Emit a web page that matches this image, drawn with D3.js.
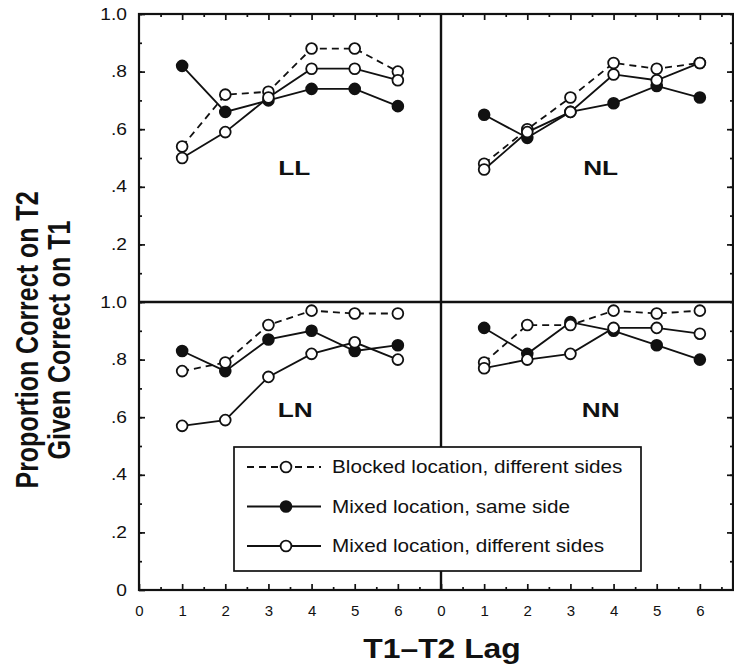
<!DOCTYPE html>
<html>
<head>
<meta charset="utf-8">
<script src="https://cdn.jsdelivr.net/npm/d3@7"></script>
<style>
  body { margin: 0; background: #fff; }
  text { font-family: "Liberation Sans", Arial, Helvetica, sans-serif; fill: #111; }
</style>
</head>
<body>
<div class="chart"></div>
<script>
// Lags on the x axis
const lags = [1, 2, 3, 4, 5, 6];

// Series names (legend order)
const seriesNames = [
    "Blocked location, different sides",
    "Mixed location, same side",
    "Mixed location, different sides"
];

// Proportion correct
const LL_blocked   = [0.54, 0.72, 0.73, 0.88, 0.88, 0.80];
const LL_mixedSame = [0.82, 0.66, 0.70, 0.74, 0.74, 0.68];
const LL_mixedDiff = [0.50, 0.59, 0.71, 0.81, 0.81, 0.77];

const NL_blocked   = [0.48, 0.60, 0.71, 0.83, 0.81, 0.83];
const NL_mixedSame = [0.65, 0.57, 0.66, 0.69, 0.75, 0.71];
const NL_mixedDiff = [0.46, 0.59, 0.66, 0.79, 0.77, 0.83];

const LN_blocked   = [0.76, 0.79, 0.92, 0.97, 0.96, 0.96];
const LN_mixedSame = [0.83, 0.76, 0.87, 0.90, 0.83, 0.85];
const LN_mixedDiff = [0.57, 0.59, 0.74, 0.82, 0.86, 0.80];

const NN_blocked   = [0.79, 0.92, 0.92, 0.97, 0.96, 0.97];
const NN_mixedSame = [0.91, 0.82, 0.93, 0.90, 0.85, 0.80];
const NN_mixedDiff = [0.77, 0.80, 0.82, 0.91, 0.91, 0.89];

// Tick values
const xTicks = [0, 1, 2, 3, 4, 5, 6];
const yTicks = [0, 0.2, 0.4, 0.6, 0.8, 1.0];

const width = 734;
const height = 665;

// Frame geometry
const frameLeft = 139, frameMid = 441, frameRight = 733;
const frameTop = 14, frameMidY = 302, frameBottom = 590;
const unit = (frameMid - frameLeft) / 7;
const stretch = 1.2;   // the scanned figure is a bit wide

const svg = d3.select(".chart").append("svg")
    .attr("width", width)
    .attr("height", height);

// Scales
const xLeft = d3.scaleLinear().domain([0, 7]).range([frameLeft, frameMid]);
const xRight = d3.scaleLinear().domain([0, (frameRight - frameMid) / unit]).range([frameMid, frameRight]);
const yTop = d3.scaleLinear().domain([0, 1]).range([frameMidY, frameTop]);
const yBottom = d3.scaleLinear().domain([0, 1]).range([frameBottom, frameMidY]);

const panels = [
    { name: "LL", x: xLeft,  y: yTop,    series: [LL_blocked, LL_mixedSame, LL_mixedDiff], lx: 3.6, ly: 0.44 },
    { name: "NL", x: xRight, y: yTop,    series: [NL_blocked, NL_mixedSame, NL_mixedDiff], lx: 3.7, ly: 0.44 },
    { name: "LN", x: xLeft,  y: yBottom, series: [LN_blocked, LN_mixedSame, LN_mixedDiff], lx: 3.62, ly: 0.6 },
    { name: "NN", x: xRight, y: yBottom, series: [NN_blocked, NN_mixedSame, NN_mixedDiff], lx: 3.7, ly: 0.6 }
];

const styles = [
    { dash: "7,5", fill: "#fff" },
    { dash: null,  fill: "#111" },
    { dash: null,  fill: "#fff" }
];

const fmtY = d => d === 1 ? "1.0" : d === 0 ? "0" : d3.format(".1f")(d).replace("0.", ".");
const halves = d3.range(0.5, 7, 0.5);
const tenths = d3.range(0.1, 1.0001, 0.1).map(v => +v.toFixed(1));

// Axes helper: draws ticks pointing inward, no domain path
function tickAxis(axis, tx, ty, cls) {
    const g = svg.append("g")
        .attr("class", cls)
        .attr("transform", `translate(${tx},${ty})`)
        .call(axis);
    g.select(".domain").remove();
    g.selectAll(".tick line").attr("stroke", "#111").attr("stroke-width", 1.7);
    return g;
}

// Left edge: labels and ticks
[yTop, yBottom].forEach((y, i) => {
    const vals = i === 0 ? yTicks.filter(v => v > 0) : yTicks;
    tickAxis(d3.axisLeft(y).tickValues(tenths).tickSize(-3).tickFormat(""), frameLeft, 0, "minor");
    const g = tickAxis(d3.axisLeft(y).tickValues(vals).tickSize(-6).tickPadding(10).tickFormat(fmtY), frameLeft, 0, "y-axis");
    g.selectAll("text")
        .attr("font-size", 16)
        .attr("transform", `scale(${stretch},1)`);
    // Right edge ticks
    tickAxis(d3.axisRight(y).tickValues(tenths).tickSize(-3).tickFormat(""), frameRight, 0, "minor");
    tickAxis(d3.axisRight(y).tickValues([0.2, 0.4, 0.6, 0.8]).tickSize(-6).tickFormat(""), frameRight, 0, "major");
});

// Top and bottom edges
[xLeft, xRight].forEach(x => {
    const h = halves.filter(v => v <= x.domain()[1] && v % 1 !== 0);
    tickAxis(d3.axisTop(x).tickValues(h).tickSize(-3).tickFormat(""), 0, frameTop, "minor");
    tickAxis(d3.axisTop(x).tickValues(xTicks.filter(v => v > 0)).tickSize(-6).tickFormat(""), 0, frameTop, "major");
    tickAxis(d3.axisBottom(x).tickValues(h).tickSize(-3).tickFormat(""), 0, frameBottom, "minor");
    const g = tickAxis(d3.axisBottom(x).tickValues(xTicks).tickSize(-6).tickPadding(15).tickFormat(d3.format("d")), 0, frameBottom, "x-axis");
    g.selectAll("text").attr("font-size", 15);
});

// Frame and dividing lines
svg.append("rect")
    .attr("x", frameLeft).attr("y", frameTop)
    .attr("width", frameRight - frameLeft).attr("height", frameBottom - frameTop)
    .attr("fill", "none").attr("stroke", "#111").attr("stroke-width", 2.2);
svg.append("line")
    .attr("x1", frameMid).attr("x2", frameMid).attr("y1", frameTop).attr("y2", frameBottom)
    .attr("stroke", "#111").attr("stroke-width", 2.4);
svg.append("line")
    .attr("x1", frameLeft).attr("x2", frameRight).attr("y1", frameMidY).attr("y2", frameMidY)
    .attr("stroke", "#111").attr("stroke-width", 2.4);

// Panels
panels.forEach(p => {
    const g = svg.append("g").attr("class", "panel");
    const line = d3.line()
        .x((d, i) => p.x(lags[i]))
        .y(d => p.y(d));

    p.series.forEach((vals, s) => {
        g.append("path")
            .datum(vals)
            .attr("d", line)
            .attr("fill", "none")
            .attr("stroke", "#111")
            .attr("stroke-width", 1.8)
            .attr("stroke-dasharray", styles[s].dash);
    });

    // filled markers first, open ones on top
    [1, 0, 2].forEach(s => {
        g.selectAll(null)
            .data(p.series[s])
            .enter()
            .append("circle")
            .attr("cx", (d, i) => p.x(lags[i]))
            .attr("cy", d => p.y(d))
            .attr("r", 5.4)
            .attr("fill", styles[s].fill)
            .attr("stroke", "#111")
            .attr("stroke-width", 1.8);
    });

    g.append("text")
        .attr("transform", `translate(${p.x(p.lx)},${p.y(p.ly)}) scale(1.25,1)`)
        .attr("text-anchor", "middle")
        .attr("font-size", 21)
        .attr("font-weight", "bold")
        .text(p.name);
});

// Legend
const legend = svg.append("g").attr("class", "legend");
legend.append("rect")
    .attr("x", 234).attr("y", 447)
    .attr("width", 407).attr("height", 124)
    .attr("fill", "#fff").attr("stroke", "#111").attr("stroke-width", 1.7);

seriesNames.forEach((name, s) => {
    const ly = 467 + s * 39.5;
    legend.append("line")
        .attr("x1", 247).attr("x2", 321).attr("y1", ly).attr("y2", ly)
        .attr("stroke", "#111").attr("stroke-width", 1.8)
        .attr("stroke-dasharray", styles[s].dash);
    legend.append("circle")
        .attr("cx", 286).attr("cy", ly).attr("r", 5.4)
        .attr("fill", styles[s].fill)
        .attr("stroke", "#111").attr("stroke-width", 1.8);
    legend.append("text")
        .attr("transform", `translate(332,${ly + 6}) scale(1.15,1)`)
        .attr("font-size", 18)
        .text(name);
});

// Axis titles
svg.append("text")
    .attr("transform", `translate(442,658) scale(1.18,1)`)
    .attr("text-anchor", "middle")
    .attr("font-size", 27)
    .attr("font-weight", "bold")
    .text("T1–T2 Lag");

["Proportion Correct on T2", "Given Correct on T1"].forEach((t, i) => {
    svg.append("text")
        .attr("transform", `translate(${38 + i * 32},340) scale(1.25,1) rotate(-90)`)
        .attr("text-anchor", "middle")
        .attr("font-size", 25)
        .attr("font-weight", "bold")
        .text(t);
});
</script>
</body>
</html>
